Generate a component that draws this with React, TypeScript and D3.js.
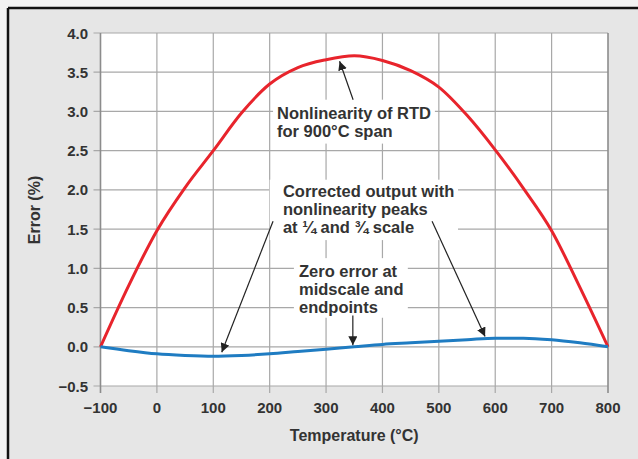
import React from "react";
import * as d3 from "d3";

const temps = [-100, -50, 0, 50, 100, 150, 200, 250, 300, 350, 400, 450, 500, 550, 600, 650, 700, 750, 800];
const rtdError = [0, 0.78, 1.48, 2.03, 2.5, 2.98, 3.35, 3.56, 3.66, 3.71, 3.65, 3.52, 3.31, 2.95, 2.51, 2.02, 1.48, 0.76, 0];
const correctedError = [0, -0.05, -0.09, -0.11, -0.12, -0.11, -0.09, -0.06, -0.03, 0, 0.03, 0.05, 0.07, 0.09, 0.11, 0.11, 0.09, 0.05, 0];

const xTicks = [-100, 0, 100, 200, 300, 400, 500, 600, 700, 800];
const yTicks = [-0.5, 0, 0.5, 1.0, 1.5, 2.0, 2.5, 3.0, 3.5, 4.0];

const xLabel = "Temperature (°C)";
const yLabel = "Error (%)";

// annotation text blocks (data units: first baseline anchor, and white box [x0, y0, x1, y1])
const notes = [
  { lines: ["Nonlinearity of RTD", "for 900°C span"], x: 213, y: 2.9, box: [206, 3.15, 493, 2.59] },
  { lines: ["Corrected output with", "nonlinearity peaks", "at ¼ and ¾ scale"], x: 223.5, y: 1.91, box: [200, 2.13, 534, 1.36] },
  { lines: ["Zero error at", "midscale and", "endpoints"], x: 252, y: 0.89, box: [243, 1.13, 445, 0.37] },
];

// arrows: [x1, y1, x2, y2] tail -> tip in data units
const arrows = [
  [348, 3.15, 324, 3.64],
  [206, 1.6, 115, -0.07],
  [488, 1.6, 582, 0.13],
  [347.5, 0.4, 347.5, 0.02],
];

export default function App() {
  const W = 638, H = 459;
  const x = d3.scaleLinear().domain([-100, 800]).range([100.5, 608]);
  const y = d3.scaleLinear().domain([-0.5, 4.0]).range([386, 33]);
  const line = d3.line<number>().x((_, i) => x(temps[i])).y((d) => y(d)).curve(d3.curveMonotoneX);
  const font = "'Liberation Sans', Arial, Helvetica, sans-serif";
  const txt = "#333333";
  const grid = "#a8a8a8";

  return (
    <svg width={W} height={H} style={{ position: "absolute", left: 0, top: 0 }} fontFamily={font}>
      <defs>
        <marker id="ah" viewBox="0 0 10 10" refX="10" refY="5" markerWidth="9" markerHeight="9" markerUnits="userSpaceOnUse" orient="auto">
          <path d="M0,0 L10,5 L0,10 Z" fill="#222" />
        </marker>
      </defs>
      <rect x={0} y={0} width={W} height={H} fill="#f2f2f2" />
      <rect x={8} y={8} width={W} height={H} fill="#e6e6e6" />
      <line x1={8} y1={8} x2={W} y2={8} stroke="#111" strokeWidth={2.5} />
      <line x1={8} y1={8} x2={8} y2={H} stroke="#111" strokeWidth={2.5} />

      <rect x={x(-100)} y={y(4)} width={x(800) - x(-100)} height={y(-0.5) - y(4)} fill="#ffffff" />
      {yTicks.map((t) => (
        <line key={"gy" + t} x1={x(-100) - 7} x2={x(800)} y1={y(t)} y2={y(t)} stroke={grid} strokeWidth={1.2} />
      ))}
      {xTicks.map((t) => (
        <line key={"gx" + t} x1={x(t)} x2={x(t)} y1={y(4)} y2={y(-0.5) + 7} stroke={t === 800 || t === -100 ? "#8c8c8c" : grid} strokeWidth={t === 800 || t === -100 ? 1.6 : 1.2} />
      ))}

      {yTicks.map((t) => (
        <text key={"ty" + t} x={88} y={y(t) + 5.5} textAnchor="end" fontSize={15} fontWeight="bold" fill={txt}>
          {t < 0 ? "−" + Math.abs(t).toFixed(1) : t.toFixed(1)}
        </text>
      ))}
      {xTicks.map((t) => (
        <text key={"tx" + t} x={x(t)} y={413} textAnchor="middle" fontSize={15} fontWeight="bold" fill={txt}>
          {t < 0 ? "−" + Math.abs(t) : String(t)}
        </text>
      ))}

      <text x={x(350)} y={441} textAnchor="middle" fontSize={16} fontWeight="bold" fill={txt}>{xLabel}</text>
      <text transform={`translate(40,210) rotate(-90)`} textAnchor="middle" fontSize={16} fontWeight="bold" fill={txt}>{yLabel}</text>

      {notes.map((n, i) => (
        <g key={"n" + i}>
          <rect x={x(n.box[0])} y={y(n.box[1])} width={x(n.box[2]) - x(n.box[0])} height={y(n.box[3]) - y(n.box[1])} fill="#ffffff" />
          {n.lines.map((l, j) => (
            <text key={j} x={x(n.x)} y={y(n.y) + j * 18} fontSize={16.5} fontWeight="bold" fill={txt}>{l}</text>
          ))}
        </g>
      ))}

      <path d={line(rtdError) || ""} fill="none" stroke="#e8242c" strokeWidth={3} />
      <path d={line(correctedError) || ""} fill="none" stroke="#1f7cc2" strokeWidth={3} />

      {arrows.map((a, i) => (
        <line key={"a" + i} x1={x(a[0])} y1={y(a[1])} x2={x(a[2])} y2={y(a[3])} stroke="#222" strokeWidth={1.2} markerEnd="url(#ah)" />
      ))}
    </svg>
  );
}
